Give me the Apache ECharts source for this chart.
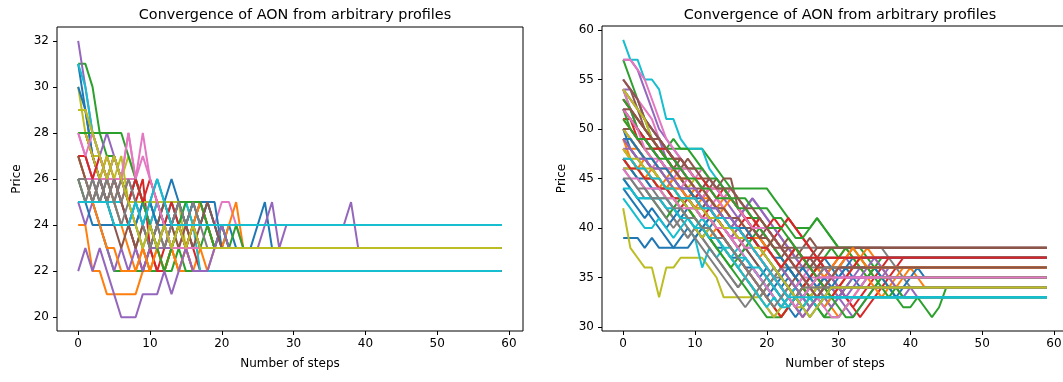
<!DOCTYPE html>
<html>
<head>
<meta charset="utf-8">
<script src="https://cdn.jsdelivr.net/npm/echarts@6/dist/echarts.min.js"></script>
<style>
  html, body { margin: 0; padding: 0; background: #fff; }
  #chart { width: 1063px; height: 382px; }
</style>
</head>
<body>
<div id="chart"></div>
<script>
// x positions (steps) and tick labels
var steps = [];
for (var i = 0; i < 60; i++) steps.push(i);
var xTicks = [0, 10, 20, 30, 40, 50, 60];
var leftYTicks = [20, 22, 24, 26, 28, 30, 32];
var rightYTicks = [30, 35, 40, 45, 50, 55, 60];

var titleText = 'Convergence of AON from arbitrary profiles';

// matplotlib tab10 cycle
var tab10 = ['#1f77b4', '#ff7f0e', '#2ca02c', '#d62728', '#9467bd',
             '#8c564b', '#e377c2', '#7f7f7f', '#bcbd22', '#17becf'];

// left panel: price per step until it settles (the last value then stays flat)
var leftRuns = [
  [31,29,27,26,25,25,24,24,24,25,25,26,25,26,25,24,25,24,25,24,23,24,23,23,23,24,25,23],
  [24,24,22,22,21,21,21,21,21,22,22,22,22,23,22,22,22,22],
  [31,31,30,28,27,27,26,25,24,23,22,22,22,22,23,22,22],
  [28,28,27,26,27,26,25,26,25,26,23,22,22,23,24,23,22,22],
  [32,30,28,27,28,27,26,25,26,25,24,25,24,23,24,23,24,25,24,23],
  [27,27,26,25,26,25,26,25,26,25,24,23,24,23,24,23,24,25,24,23],
  [28,27,26,27,26,27,26,28,26,28,26,25,24,23,23,24,24,24,24,24,25,25,24,23],
  [26,25,26,25,26,25,26,25,26,25,24,23,24,23,24,23,24,25,24,23,24,23],
  [30,28,27,27,26,27,26,27,26,25,25,25,25,24,23,23],
  [25,25,25,25,25,25,25,24,25,25,25,24],
  [30,29,27,26,25,24,24,24,24,25,25,24,24,24,24,24,25,24,25,25,23],
  [29,29,28,27,26,25,24,23,22,23,22,23,22,23,22,23,22,23,22,23,23,24,25,23],
  [26,25,25,24,23,22,22,22,22,22,23,24,25,25,25,25,24,23,24,23,24,23],
  [28,28,27,26,25,26,25,24,23,22,23,22,23,24,25,24,23,22,22],
  [25,24,25,24,23,22,23,22,23,22,23,23,23,23,23,23,23,23,23,23,23,23,23,23,23,23,24,25,23,24,24,24,24,24,24,24,24,24,25,23],
  [27,26,25,26,25,26,25,24,23,24,23,24,23,24,25,24,23],
  [26,26,26,26,26,26,26,26,26,25,24,25,24,23],
  [26,25,26,25,26,25,24,25,24,23,24,23,24,25,24,23,24,23],
  [28,28,27,26,27,26,27,25,25,25,25,25,25,25,25,23],
  [31,30,28,27,26,27,26,25,26,25,24,25,24,25,24,25,24,22],
  [25,25,24,24,24,24,24,24,25,24,25,24,25,24,25,24,25,25,25,24,23],
  [27,26,25,24,23,23,22,22,22,23,22,23,22,23,22,23,24,25,24,23],
  [28,28,28,28,28,28,28,27,26,25,24,23,22,23,24,25,25,25,24,23,24,23,24,23],
  [27,27,26,27,26,27,26,25,26,25,26,25,24,25,24,23,24,23],
  [22,23,22,23,22,21,20,20,20,21,21,21,22,21,22,23,22,22,22,23,24,23],
  [27,26,25,26,25,24,23,24,23,24,23,24,25,24,23,24,23,24,25,24,23],
  [28,27,28,27,26,27,26,28,26,27,26,25,24,23],
  [26,26,25,26,25,26,25,26,25,24,23,24,23,24,25,24,25,24,23],
  [29,29,28,27,26,27,26,25,24,23,24,23,24,23,24,23,24,23],
  [25,25,25,25,25,24,24,24,25,24,25,26,25,24]
];

// right panel
var rightRuns = [
  [39,39,39,38,39,38,38,38,39,40,39,40,39,38,38,37,37,36,36,35,36,35,34,35,34,33,34,33,33,34,33,34],
  [49,48,47,46,45,44,45,46,45,44,43,44,43,42,43,44,43,42,41,40,39,38,37,36,35,34,33,32,33,32,31,32,33,34,35,36],
  [57,55,53,51,49,48,48,49,48,48,48,48,47,46,45,44,43,42,41,40,39,38,37,36,35,34,33,32,31,32,33,34,35],
  [51,51,49,49,49,48,47,46,45,44,43,44,43,42,41,40,41,40,39,38,37,36,35,34,33,34,33,34,35,36,37],
  [57,57,56,54,52,50,49,48,47,46,45,44,45,44,43,42,41,42,43,42,41,40,39,38,37,36,35,34,33,32,33,34,35,36],
  [55,54,52,50,49,48,47,46,47,46,45,44,45,44,45,45,42,41,40,40,39,38,37,38,37,38,39,38],
  [55,54,53,52,51,49,48,47,46,45,44,43,42,43,42,41,40,39,40,39,38,37,36,35,34,33,34,35],
  [46,45,44,43,43,43,42,41,40,39,40,39,38,37,36,35,34,35,34,33,34,35,36],
  [42,38,37,36,36,33,36,36,37,37,37,37,36,35,33,33,33,33,33,33,34,35,36,35,34,33,32,33,34],
  [59,57,57,55,55,54,51,51,49,48,48,48,46,45,44,43,42,41,40,39,38,37,36,35,34,33,32,33,32,33],
  [50,48,47,46,45,44,43,42,41,42,41,40,41,40,39,38,37,38,37,36,35,34,33,32,31,32,33,34,35],
  [49,47,46,45,46,45,44,45,44,43,42,43,44,43,42,41,40,39,38,37,38,37,36,35,34,35,34,35,36],
  [54,52,50,49,48,48,48,48,48,48,47,46,45,44,44,44,44,44,44,44,44,43,42,41,40,40,40,41,40,39,38,38,38,38,37,36,35,34,33,32,32,33,32,31,32,34],
  [51,51,50,49,49,49,48,47,46,45,44,43,44,43,44,43,42,41,40,41,40,39,40,41,40,39,38,37,36,35,34,33,32,31,32,33,34,35,36,37],
  [54,54,53,51,50,49,47,46,45,44,43,42,43,42,41,40,41,42,43,42,41,40,39,38,37,36,37,36,35,34,33,32,31,32,33,34,35,36],
  [54,53,52,51,50,49,48,47,46,47,46,45,44,45,44,43,42,41,40,39,40,39,38,39,38,37,36,37,36,35,36,37,38],
  [57,57,56,55,53,51,49,48,47,46,45,46,45,44,43,44,43,42,41,40,39,38,37,36,35,34,35,34,35],
  [48,47,46,45,44,43,42,41,40,39,40,39,40,39,38,37,36,35,36,35,34,35,36,37,38,38,38,38,38,38,38,38,38,38,38,38,38,37,36,35,34],
  [53,52,51,50,49,48,47,46,45,44,45,44,43,42,41,40,39,38,39,38,37,36,35,34,33,32,33,34],
  [45,44,43,43,43,43,43,42,41,40,39,36,38,37,38,37,36,37,36,35,34,33,32,32,33,32,33],
  [44,43,42,41,42,41,40,41,42,41,40,39,40,41,40,39,38,37,36,35,34,33,32,33,32,33,34,35,34,35,36],
  [48,47,46,47,46,45,44,45,44,43,44,43,42,41,42,43,42,41,40,39,38,39,38,37,38,37,36,35,36,35,34,35,36,37,38,37,36,35,34,35,36,35,34],
  [52,50,49,48,47,46,45,44,43,42,41,40,39,38,37,36,37,38,39,40,39,38,37,36,35,34,33,32,31,31,31,32,33],
  [50,49,48,47,46,45,44,43,42,43,42,41,42,41,40,39,40,41,40,41,40,41,40,41,40,39,38,37,36,35,34,33,32,33,34,35,36,37],
  [54,53,52,51,50,49,48,47,46,45,44,43,42,41,40,39,40,39,38,37,36,35,34,33,32,31,32,33,34,35,36,37,36],
  [55,54,53,51,50,49,48,47,46,45,44,43,42,41,40,39,38,39,40,39,38,39,38,37,38,37,36,37,38],
  [54,52,50,49,48,47,46,45,46,45,44,43,44,43,42,41,40,39,38,37,36,35,34,33,34,35],
  [50,49,48,47,46,45,44,43,42,41,40,39,38,37,36,35,34,35,34,33,34,35,36,37],
  [54,53,52,51,49,48,47,46,45,44,43,42,41,40,39,38,37,36,35,34,33,32,31,32,33,34],
  [52,51,50,49,48,47,46,45,44,43,42,41,40,39,38,37,38,37,36,35,34,33,32,33,34,35,34,33],
  [45,44,43,42,41,40,39,38,38,38,39,40,41,40,39,38,37,36,35,34,33,34,35,36,35,34,35,36,37,36,35,36,35,34,35,36,35,34,33,34,35,36,35],
  [51,50,49,48,47,46,45,44,43,42,41,40,39,40,39,38,37,36,35,34,33,32,31,32,33,34,35,36,35,36,37,38,37,36,35,34,33,34,35,36],
  [47,46,45,44,43,42,41,42,43,42,41,40,39,38,37,36,35,34,33,32,31,31,31,32,33,34,35,36,37,38,37,38,37,36,35,36,37],
  [53,52,51,50,49,48,47,46,45,44,43,42,41,40,39,38,37,36,35,34,33,32,31,32,33,34,35,36,37],
  [52,51,50,49,48,47,46,45,44,43,42,41,40,39,38,37,36,35,34,33,32,31,32,33,34,35,34,35,36,35,34,33,34,35,36,37,36,35,34,33,34,33],
  [53,52,51,50,49,48,47,46,45,44,43,42,43,42,41,40,39,38,37,36,35,34,33,34,35,36,37,36],
  [50,49,48,47,46,47,46,45,44,45,44,43,42,41,40,39,38,37,36,35,34,33,32,33,34,35,36,35,34,35],
  [47,46,45,44,43,42,41,40,41,40,39,38,37,36,35,34,33,32,33,34,35,36,35,34,33,32,33,34,33,34],
  [50,49,48,47,46,45,44,43,42,41,40,39,40,39,38,37,36,35,34,33,32,31,32,33,34,33,34,35,34,33,34],
  [43,42,41,40,40,41,40,39,40,41,40,41,40,39,38,37,36,35,34,33,32,33,32,33,34,33,32,33],
  [46,46,45,45,44,44,44,43,43,42,42,42,41,41,40,40,40,39,39,38,38,37,37,36,35,36,35,34,35,34],
  [49,48,48,47,46,46,46,45,45,45,44,43,43,42,42,41,41,40,39,39,38,37,36,37,36,35,34,33,32,33,34,35,36,37,36,35],
  [53,52,50,49,48,48,47,47,46,46,46,46,45,45,44,43,43,43,42,42,42,41,41,40,39,39,40,41,40,39,38,38,38,37,36,35,34,33,34,33],
  [52,51,50,49,48,48,48,47,47,46,45,45,44,44,43,43,42,41,41,40,40,39,38,37,38,37,36,35,34,33,34,35,36,37],
  [48,48,47,47,46,46,45,44,44,43,43,42,42,41,41,40,40,39,39,38,38,37,36,35,34,33,32,33,34,35,36,35],
  [50,50,49,48,48,47,46,46,45,45,44,44,43,42,42,41,41,40,40,39,39,38,38,38,38,37,37,38,38,38],
  [52,51,50,48,47,47,46,46,46,46,45,44,44,44,43,43,42,41,40,40,40,39,38,37,36,35,34,33,32,31,31,32,33,34,35],
  [47,47,46,45,45,44,44,44,43,43,42,41,41,41,40,40,39,38,38,37,36,35,35,34,33,33,34,35,36],
  [46,46,46,45,45,44,43,43,43,42,42,41,41,40,40,40,40,39,38,37,36,35,34,33,32,32,33,34],
  [44,44,43,43,43,43,42,42,41,41,40,40,39,39,38,38,37,37,36,36,35,34,33,32,33,32,33,32,33],
  [49,49,48,47,47,46,46,45,44,44,43,43,42,42,41,41,40,40,39,38,37,36,35,34,33,32,31,32,33,34,35,36,37],
  [48,47,46,46,45,45,44,44,44,43,43,42,41,41,40,40,39,39,38,37,36,35,34,33,32,31,32,33,34,35,36,37,38,37,36],
  [51,50,49,49,48,47,47,46,46,45,45,44,44,43,43,43,42,42,41,41,40,40,40,39,38,37,36,35,34,33,32,31,31,32,33,34,35],
  [47,46,46,45,45,44,44,43,43,43,42,42,41,41,40,40,40,39,39,38,38,37,36,37,36,37],
  [49,48,47,47,46,46,45,45,44,44,44,43,42,42,41,41,40,39,38,37,36,35,34,33,32,31,32,33,34],
  [52,52,51,50,49,49,48,47,47,46,46,45,45,44,44,44,43,42,42,41,40,39,38,37,36,35,34,33,34,35,36],
  [46,45,45,44,44,44,43,43,42,42,42,41,41,40,40,39,39,38,38,37,36,35,34,33,32,33,34,35],
  [45,45,44,44,43,43,43,42,42,41,41,40,40,39,39,38,37,36,35,34,33,32,33,34,33,34],
  [48,47,47,46,46,45,44,44,43,43,42,42,41,41,40,40,39,39,38,38,37,36,35,34,33,32,31,32,33,34],
  [47,47,46,46,45,45,44,44,43,43,43,42,42,41,41,40,40,39,38,37,36,35,34,33,33,33]
];

// each run stays at its last price for the remaining steps
function fullRun(run) {
  var out = [];
  for (var k = 0; k < steps.length; k++) {
    out.push([steps[k], k < run.length ? run[k] : run[run.length - 1]]);
  }
  return out;
}

var font = 'DejaVu Sans';

function xAxisFor(idx) {
  return {
    type: 'value', gridIndex: idx, min: -2.95, max: 61.95,
    name: 'Number of steps', nameLocation: 'middle', nameGap: 27,
    nameTextStyle: { color: '#000', fontFamily: font, fontSize: 12 },
    axisLine: { show: false, onZero: false },
    splitLine: { show: false },
    axisTick: { show: true, length: 4, lineStyle: { color: '#000', width: 1 }, customValues: xTicks },
    axisLabel: { color: '#000', fontFamily: font, fontSize: 12, margin: 7, customValues: xTicks }
  };
}

function yAxisFor(idx, lo, hi, ticks) {
  return {
    type: 'value', gridIndex: idx, min: lo, max: hi,
    name: 'Price', nameLocation: 'middle', nameGap: 34,
    nameTextStyle: { color: '#000', fontFamily: font, fontSize: 12 },
    axisLine: { show: false, onZero: false },
    splitLine: { show: false },
    axisTick: { show: true, length: 4, lineStyle: { color: '#000', width: 1 }, customValues: ticks },
    axisLabel: { color: '#000', fontFamily: font, fontSize: 12, margin: 8, customValues: ticks }
  };
}

var series = [];
leftRuns.forEach(function(run, i) {
  series.push({
    type: 'line', xAxisIndex: 0, yAxisIndex: 0,
    showSymbol: false, silent: true,
    lineStyle: { color: tab10[i % 10], width: 2 },
    data: fullRun(run)
  });
});
rightRuns.forEach(function(run, i) {
  series.push({
    type: 'line', xAxisIndex: 1, yAxisIndex: 1,
    showSymbol: false, silent: true,
    lineStyle: { color: tab10[i % 10], width: 2 },
    data: fullRun(run)
  });
});

var chart = echarts.init(document.getElementById('chart'), null, { renderer: 'canvas' });
chart.setOption({
  animation: false,
  backgroundColor: '#fff',
  title: [
    { text: titleText, left: 290, top: 3, textAlign: 'center',
      textStyle: { color: '#000', fontFamily: font, fontSize: 14.4, fontWeight: 'normal' } },
    { text: titleText, left: 835, top: 3, textAlign: 'center',
      textStyle: { color: '#000', fontFamily: font, fontSize: 14.4, fontWeight: 'normal' } }
  ],
  grid: [
    { left: 57, top: 27, width: 466, height: 304, show: true, borderColor: '#000', borderWidth: 1,
      outerBoundsMode: 'none' },
    { left: 602, top: 26, width: 466, height: 305, show: true, borderColor: '#000', borderWidth: 1,
      outerBoundsMode: 'none' }
  ],
  xAxis: [xAxisFor(0), xAxisFor(1)],
  yAxis: [yAxisFor(0, 19.4, 32.6, leftYTicks), yAxisFor(1, 29.6, 60.4, rightYTicks)],
  series: series
});
</script>
</body>
</html>
